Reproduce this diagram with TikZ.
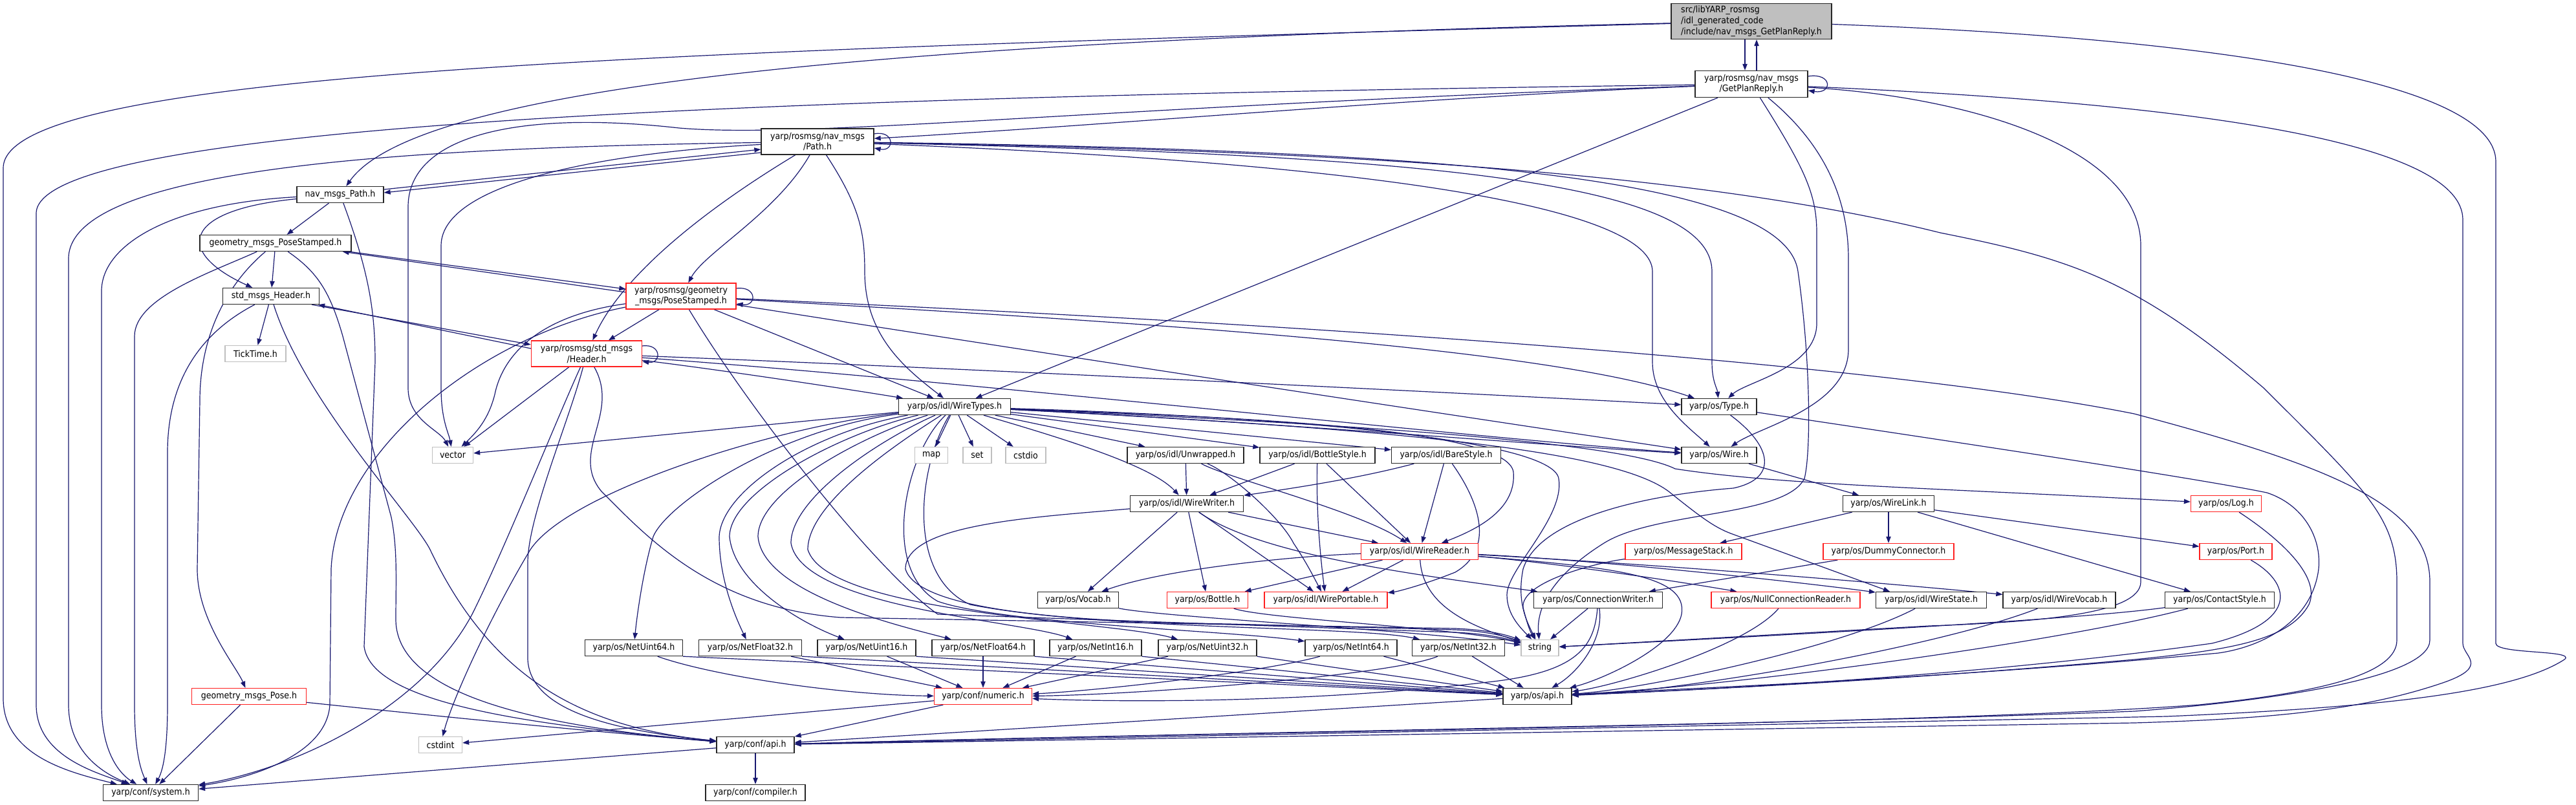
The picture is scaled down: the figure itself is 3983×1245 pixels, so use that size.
\documentclass[tikz,border=0pt]{standalone}
\usepackage{fontspec}
\setmainfont{DejaVu Sans}[FakeStretch=0.9]
\usetikzlibrary{arrows.meta,calc}
\definecolor{edgec}{HTML}{191970}
\definecolor{rootg}{HTML}{BFBFBF}
\definecolor{grayb}{HTML}{BFBFBF}
\definecolor{redb}{HTML}{FF2020}
\pgfdeclarelayer{bg}
\pgfsetlayers{bg,main}
\begin{document}
\begin{tikzpicture}[x=0.75pt,y=-0.75pt,
  nb/.style={draw=black!85,fill=white,line width=1pt,inner sep=0pt,minimum height=18.75pt,font=\fontsize{10.5}{12.5}\selectfont},
  rb/.style={nb,draw=redb},
  gb/.style={nb,draw=grayb},
  wd/.style={minimum width=#1*0.75pt},
  ht/.style={minimum height=#1*0.75pt},
  ar/.style={draw=edgec,line width=0.9pt,-{Triangle[length=7.5pt,width=5.5pt]}}]
\useasboundingbox (0,0) rectangle (3983,1245);
% nodes
\node[nb,wd=248,ht=55,fill=rootg,align=left] (R) at (2708,33) {src/libYARP\_rosmsg\\/idl\_generated\_code\\/include/nav\_msgs\_GetPlanReply.h};
\node[nb,wd=174,ht=41,align=center] (G) at (2708,130) {yarp/rosmsg/nav\_msgs\\/GetPlanReply.h};
\node[nb,wd=174,ht=40,align=center] (P) at (1264,219) {yarp/rosmsg/nav\_msgs\\/Path.h};
\node[nb,wd=134] (NP) at (526,301) {nav\_msgs\_Path.h};
\node[nb,wd=234] (GPS) at (426,376) {geometry\_msgs\_PoseStamped.h};
\node[nb,wd=149] (SMH) at (419,458) {std\_msgs\_Header.h};
\node[rb,wd=170,ht=40,align=center] (RPS) at (1053,458) {yarp/rosmsg/geometry\\\_msgs/PoseStamped.h};
\node[gb,wd=94] (TT) at (395,547) {TickTime.h};
\node[rb,wd=171,ht=40,align=center] (RH) at (907,547) {yarp/rosmsg/std\_msgs\\/Header.h};
\node[nb,wd=173] (WT) at (1476,629) {yarp/os/idl/WireTypes.h};
\node[nb,wd=116] (TY) at (2658,629) {yarp/os/Type.h};
\node[gb,wd=63] (VEC) at (700,704) {vector};
\node[gb,wd=51] (MAP) at (1440,704) {map};
\node[gb,wd=44] (SET) at (1511,704) {set};
\node[gb,wd=62] (CSTDIO) at (1586,704) {cstdio};
\node[nb,wd=180] (UW) at (1833,704) {yarp/os/idl/Unwrapped.h};
\node[nb,wd=178] (BS) at (2037,704) {yarp/os/idl/BottleStyle.h};
\node[nb,wd=169] (BRS) at (2236,704) {yarp/os/idl/BareStyle.h};
\node[nb,wd=116] (WI) at (2658,704) {yarp/os/Wire.h};
\node[nb,wd=175] (WW) at (1835,779) {yarp/os/idl/WireWriter.h};
\node[nb,wd=141] (WL) at (2920,779) {yarp/os/WireLink.h};
\node[rb,wd=109] (LOG) at (3442,779) {yarp/os/Log.h};
\node[rb,wd=181] (WR) at (2195,853) {yarp/os/idl/WireReader.h};
\node[rb,wd=180] (MS) at (2603,853) {yarp/os/MessageStack.h};
\node[rb,wd=202] (DC) at (2920,853) {yarp/os/DummyConnector.h};
\node[rb,wd=112] (PORT) at (3457,853) {yarp/os/Port.h};
\node[nb,wd=125] (VOC) at (1667,928) {yarp/os/Vocab.h};
\node[rb,wd=125] (BOT) at (1867,928) {yarp/os/Bottle.h};
\node[rb,wd=190] (WP) at (2050,928) {yarp/os/idl/WirePortable.h};
\node[nb,wd=199] (CW) at (2471,928) {yarp/os/ConnectionWriter.h};
\node[rb,wd=230] (NCR) at (2761,928) {yarp/os/NullConnectionReader.h};
\node[nb,wd=171] (WS) at (2986,928) {yarp/os/idl/WireState.h};
\node[nb,wd=174] (WV) at (3184,928) {yarp/os/idl/WireVocab.h};
\node[nb,wd=169] (CS) at (3432,928) {yarp/os/ContactStyle.h};
\node[nb,wd=151] (NU64) at (980,1002) {yarp/os/NetUint64.h};
\node[nb,wd=159] (NF32) at (1160,1002) {yarp/os/NetFloat32.h};
\node[nb,wd=152] (NU16) at (1340,1002) {yarp/os/NetUint16.h};
\node[nb,wd=158] (NF64) at (1520,1002) {yarp/os/NetFloat64.h};
\node[nb,wd=142] (NI16) at (1694,1002) {yarp/os/NetInt16.h};
\node[nb,wd=152] (NU32) at (1867,1002) {yarp/os/NetUint32.h};
\node[nb,wd=142] (NI64) at (2089,1002) {yarp/os/NetInt64.h};
\node[nb,wd=143] (NI32) at (2255,1002) {yarp/os/NetInt32.h};
\node[gb,wd=58] (STR) at (2381,1002) {string};
\node[rb,wd=177] (GP) at (385,1077) {geometry\_msgs\_Pose.h};
\node[rb,wd=151] (NUM) at (1520,1077) {yarp/conf/numeric.h};
\node[nb,wd=106] (OSAPI) at (2377,1077) {yarp/os/api.h};
\node[gb,wd=67] (CSTDINT) at (681,1152) {cstdint};
\node[nb,wd=120] (CAPI) at (1168,1152) {yarp/conf/api.h};
\node[nb,wd=147] (SYS) at (233,1226) {yarp/conf/system.h};
\node[nb,wd=154] (COMP) at (1168,1226) {yarp/conf/compiler.h};
% edges
\begin{pgfonlayer}{bg}
\fill[white] (0,0) rectangle (3983,1245);
% root
\draw[ar] ($(R.south)+(-10,0)$) -- ($(G.north)+(-10,0)$);
\draw[ar] (R) .. controls (1000,80) and (5,110) .. (5,260) -- (5,1080) .. controls (5,1170) and (110,1195) .. (SYS);
\draw[ar] (R) .. controls (1300,65) and (640,140) .. (NP);
\draw[ar] (R) .. controls (3450,60) and (3859,130) .. (3859,250) -- (3859,995) .. controls (3859,1012) and (3985,1005) .. (3965,1020) .. controls (3880,1075) and (3650,1095) .. (3350,1108) -- (CAPI);
% GetPlanReply
\draw[ar] ($(G.north)+(8,0)$) -- ($(R.south)+(8,0)$);
\draw[ar] ($(G.east)+(0,-12)$) .. controls +(38,-6) and +(38,6) .. ($(G.east)+(0,10)$);
\draw[ar] (G) .. controls (2200,150) and (1700,195) .. (P);
\draw[ar] (G) .. controls (1200,150) and (56,190) .. (56,330) -- (56,1090) .. controls (56,1170) and (150,1195) .. (SYS);
\draw[ar] (G) .. controls (1700,165) and (1250,215) .. (1050,198) .. controls (800,170) and (631,210) .. (631,320) -- (631,600) .. controls (631,650) and (680,665) .. (VEC);
\draw[ar] (G) -- (WT);
\draw[ar] (G) .. controls (2790,260) and (2809,300) .. (2809,360) -- (2809,500) .. controls (2809,570) and (2700,590) .. (TY);
\draw[ar] (G) .. controls (2830,230) and (2858,320) .. (2858,400) -- (2858,540) .. controls (2858,630) and (2720,660) .. (WI);
\draw[ar] (G) .. controls (3050,150) and (3310,230) .. (3310,380) -- (3310,900) .. controls (3310,950) and (3150,962) .. (2983,968) -- (STR);
\draw[ar] (G) .. controls (3400,160) and (3808,220) .. (3808,340) -- (3808,995) .. controls (3808,1015) and (3850,1030) .. (3780,1055) .. controls (3650,1100) and (3500,1112) .. (3300,1118) -- (CAPI);
% Path.h
\draw[ar] ($(P.east)+(0,-12)$) .. controls +(32,-6) and +(32,6) .. ($(P.east)+(0,10)$);
\draw[ar] ($(P.west)+(0,17)$) -- ($(NP.east)+(0,-3)$);
\draw[ar] (P) .. controls (700,228) and (106,250) .. (106,400) -- (106,1090) .. controls (106,1170) and (170,1200) .. (SYS);
\draw[ar] (P) .. controls (950,235) and (682,280) .. (682,380) -- (682,600) .. controls (682,650) and (694,670) .. (VEC);
\draw[ar] (P) .. controls (1200,330) and (1090,390) .. (RPS);
\draw[ar] (P) .. controls (1080,330) and (960,430) .. (RH);
\draw[ar] (P) .. controls (1330,320) and (1337,360) .. (1337,420) .. controls (1337,520) and (1400,570) .. (WT);
\draw[ar] (P) .. controls (2200,240) and (2647,280) .. (2647,420) -- (2647,560) .. controls (2647,590) and (2655,600) .. (TY);
\draw[ar] (P) .. controls (2200,255) and (2555,330) .. (2555,420) -- (2555,560) .. controls (2555,620) and (2610,660) .. (WI);
\draw[ar] (P) .. controls (2200,232) and (2760,270) .. (2780,420) .. controls (2800,560) and (2800,700) .. (2790,740) .. controls (2760,800) and (2560,790) .. (2480,840) .. controls (2400,890) and (2375,940) .. (STR);
\draw[ar] (P) .. controls (2000,232) and (2600,260) .. (3000,360) .. controls (3200,400) and (3300,430) .. (3500,600) .. controls (3660,760) and (3706,800) .. (3706,900) -- (3706,990) .. controls (3706,1040) and (3600,1070) .. (3400,1090) .. controls (3000,1120) and (2000,1130) .. (CAPI);
% nav_msgs_Path.h
\draw[ar] ($(NP.east)+(0,-8)$) -- ($(P.west)+(0,12)$);
\draw[ar] (NP) .. controls (260,315) and (157,380) .. (157,450) -- (157,1090) .. controls (157,1170) and (190,1200) .. (SYS);
\draw[ar] (NP) -- (GPS);
\draw[ar] (NP) .. controls (280,325) and (270,390) .. (SMH);
\draw[ar] (NP) .. controls (570,420) and (580,480) .. (580,560) -- (563,1000) .. controls (575,1085) and (800,1120) .. (CAPI);
% geometry_msgs_PoseStamped.h
\draw[ar] ($(GPS.south east)+(-4,0)$) -- ($(RPS.west)+(0,-11)$);
\draw[ar] (GPS) .. controls (330,420) and (208,460) .. (208,520) -- (208,1090) .. controls (208,1170) and (220,1195) .. (SYS);
\draw[ar] (GPS) -- (SMH);
\draw[ar] (GPS) .. controls (350,440) and (309,520) .. (309,620) -- (305,880) .. controls (305,960) and (365,1030) .. (GP);
\draw[ar] (GPS) .. controls (490,420) and (510,450) .. (530,520) -- (605,800) .. controls (615,850) and (612,900) .. (612,960) .. controls (615,1080) and (850,1125) .. (CAPI);
% std_msgs_Header.h
\draw[ar] ($(SMH.south east)+(-12,0)$) -- ($(RH.west)+(0,-14)$);
\draw[ar] (SMH) -- (TT);
\draw[ar] (SMH) .. controls (300,520) and (259,600) .. (259,700) -- (259,1090) .. controls (259,1170) and (250,1195) .. (SYS);
\draw[ar] (SMH) .. controls (470,620) and (640,800) .. (665,850) .. controls (760,1050) and (900,1125) .. (CAPI);
% rosmsg geometry PoseStamped
\draw[ar] ($(RPS.east)+(0,-12)$) .. controls +(32,-4) and +(32,4) .. ($(RPS.east)+(0,12)$);
\draw[ar] ($(RPS.west)+(0,-6)$) -- ($(GPS.south east)+(-14,0)$);
\draw[ar] (RPS) -- (RH);
\draw[ar] (RPS) .. controls (820,490) and (775,560) .. (765,610) .. controls (755,650) and (735,670) .. (VEC);
\draw[ar] (RPS) .. controls (740,520) and (520,700) .. (512,880) -- (510,1090) .. controls (505,1170) and (380,1205) .. (SYS);
\draw[ar] (RPS) -- (WT);
\draw[ar] (RPS) .. controls (1150,620) and (1350,880) .. (1450,950) -- (2250,978) .. controls (2300,980) and (2330,988) .. (STR);
\draw[ar] (RPS) .. controls (1800,500) and (2400,540) .. (TY);
\draw[ar] (RPS) .. controls (1700,560) and (2300,650) .. (WI);
\draw[ar] (RPS) .. controls (2000,500) and (2900,560) .. (3300,640) .. controls (3600,720) and (3757,780) .. (3757,900) -- (3757,990) .. controls (3757,1050) and (3500,1085) .. (3300,1100) .. controls (2800,1120) and (2000,1130) .. (CAPI);
% rosmsg std_msgs Header
\draw[ar] ($(RH.east)+(0,-12)$) .. controls +(30,-4) and +(30,4) .. ($(RH.east)+(0,12)$);
\draw[ar] ($(RH.west)+(0,-8)$) -- ($(SMH.south east)+(-2,0)$);
\draw[ar] (RH) -- (VEC);
\draw[ar] (RH) .. controls (860,650) and (780,850) .. (730,950) .. controls (650,1100) and (450,1190) .. (SYS);
\draw[ar] (RH) .. controls (880,650) and (816,800) .. (816,870) -- (816,1020) .. controls (820,1100) and (950,1130) .. (CAPI);
\draw[ar] (RH) .. controls (960,640) and (880,700) .. (930,760) .. controls (1000,830) and (1100,940) .. (1300,955) -- (2250,972) .. controls (2300,974) and (2330,982) .. (STR);
\draw[ar] (RH) .. controls (1100,570) and (1300,600) .. (WT);
\draw[ar] (RH) .. controls (1500,570) and (2300,610) .. (TY);
\draw[ar] (RH) .. controls (1500,590) and (2300,680) .. (WI);
% geometry_msgs_Pose.h
\draw[ar] (GP) -- (SYS);
\draw[ar] (GP) .. controls (700,1110) and (900,1130) .. (CAPI);
% WireTypes
\draw[ar] (WT) -- (VEC);
\draw[ar] (WT) -- (MAP);
\draw[ar] (WT) -- (SET);
\draw[ar] (WT) -- (CSTDIO);
\draw[ar] (WT) -- (UW);
\draw[ar] (WT) -- (BS);
\draw[ar] (WT) -- (BRS);
\draw[ar] (WT) .. controls (1650,680) and (1780,720) .. (WW);
\draw[ar] (WT) .. controls (1900,645) and (2330,660) .. (2340,730) .. controls (2345,790) and (2280,820) .. (WR);
\draw[ar] (WT) .. controls (2000,645) and (2400,680) .. (2410,740) .. controls (2420,800) and (2330,880) .. (2330,920) .. controls (2330,950) and (2350,970) .. (STR);
\draw[ar] (WT) .. controls (2000,655) and (2400,690) .. (WI);
\draw[ar] (WT) .. controls (2200,660) and (2520,690) .. (2590,725) .. controls (2750,750) and (3000,755) .. (LOG);
\draw[ar] (WT) .. controls (2200,665) and (2500,700) .. (2580,760) .. controls (2630,800) and (2650,815) .. (2676,825) -- ($(WS.north)+(-64,0)$);
\draw[ar] (WT) .. controls (1200,660) and (880,760) .. (820,850) .. controls (760,950) and (700,1080) .. (CSTDINT);
\draw[ar] (WT) .. controls (1200,665) and (1030,780) .. (1010,830) .. controls (995,880) and (985,950) .. (NU64);
\draw[ar] (WT) .. controls (1250,670) and (1115,760) .. (1112,830) .. controls (1112,900) and (1140,960) .. (NF32);
\draw[ar] (WT) .. controls (1300,670) and (1128,760) .. (1128,830) .. controls (1135,900) and (1230,960) .. (NU16);
\draw[ar] (WT) .. controls (1330,675) and (1172,760) .. (1172,830) .. controls (1180,920) and (1400,970) .. (NF64);
\draw[ar] (WT) .. controls (1360,680) and (1223,770) .. (1223,840) .. controls (1240,940) and (1580,960) .. (NI16);
\draw[ar] (WT) .. controls (1380,690) and (1249,780) .. (1249,850) .. controls (1280,950) and (1720,960) .. (NU32);
\draw[ar] (WT) .. controls (1400,700) and (1360,880) .. (1450,930) .. controls (1550,965) and (1900,975) .. (NI64);
\draw[ar] (WT) .. controls (1420,720) and (1400,890) .. (1500,935) .. controls (1700,975) and (2100,968) .. (NI32);
% Type.h, Wire.h
\draw[ar] (TY) .. controls (2740,690) and (2750,740) .. (2680,755) .. controls (2550,765) and (2380,800) .. (2355,880) .. controls (2345,930) and (2360,960) .. (STR);
\draw[ar] (TY) .. controls (3000,680) and (3400,740) .. (3505,762) .. controls (3560,780) and (3590,830) .. (3585,880) .. controls (3575,960) and (3500,1000) .. (3430,1010) .. controls (3000,1050) and (2600,1065) .. (OSAPI);
\draw[ar] (WI) -- (WL);
% Unwrapped, BottleStyle, BareStyle
\draw[ar] (UW) -- (WW);
\draw[ar] (UW) .. controls (1900,740) and (2100,790) .. (WR);
\draw[ar] (UW) .. controls (1900,730) and (1980,800) .. (2000,840) .. controls (2020,870) and (2030,890) .. (WP);
\draw[ar] (BS) -- (WW);
\draw[ar] (BS) -- (WR);
\draw[ar] (BS) .. controls (2035,780) and (2040,850) .. (WP);
\draw[ar] (BRS) .. controls (2100,740) and (2000,755) .. (WW);
\draw[ar] (BRS) -- (WR);
\draw[ar] (BRS) .. controls (2290,780) and (2310,850) .. (2250,885) .. controls (2200,905) and (2160,915) .. (WP);
% WireWriter
\draw[ar] (WW) -- (VOC);
\draw[ar] (WW) -- (BOT);
\draw[ar] (WW) -- (WP);
\draw[ar] (WW) -- (WR);
\draw[ar] (WW) .. controls (1950,860) and (2200,890) .. (CW);
\draw[ar] (WW) .. controls (1600,800) and (1400,810) .. (1400,880) .. controls (1420,950) and (1700,962) .. (1900,965) -- (2250,974) .. controls (2300,976) and (2330,985) .. (STR);
% WireReader
\draw[ar] (WR) .. controls (2000,860) and (1800,880) .. (VOC);
\draw[ar] (WR) -- (BOT);
\draw[ar] (WR) -- (WP);
\draw[ar] (WR) .. controls (2200,940) and (2280,970) .. (STR);
\draw[ar] (WR) .. controls (2400,870) and (2600,900) .. (NCR);
\draw[ar] (WR) .. controls (2500,868) and (2820,905) .. (WS);
\draw[ar] (WR) .. controls (2600,875) and (2950,905) .. (WV);
\draw[ar] (WR) .. controls (2500,878) and (2610,890) .. (2600,950) .. controls (2590,1000) and (2480,1050) .. (OSAPI);
% other middle nodes
\draw[ar] (VOC) .. controls (1800,955) and (2200,975) .. (STR);
\draw[ar] (BOT) .. controls (1960,958) and (2250,970) .. (STR);
\draw[ar] (CW) -- (STR);
\draw[ar] (CW) .. controls (2480,990) and (2440,1040) .. (OSAPI);
\draw[ar] (CW) .. controls (2465,1000) and (2440,1040) .. (2300,1055) .. controls (2000,1090) and (1700,1085) .. (NUM);
\draw[ar] (NCR) .. controls (2700,1000) and (2500,1060) .. (OSAPI);
\draw[ar] (WS) .. controls (2850,1000) and (2550,1065) .. (OSAPI);
\draw[ar] (WV) .. controls (3000,1000) and (2600,1070) .. (OSAPI);
\draw[ar] (CS) .. controls (3200,960) and (2700,985) .. (STR);
\draw[ar] (CS) .. controls (3200,990) and (2700,1060) .. (OSAPI);
\draw[ar] (MS) .. controls (2470,870) and (2350,900) .. (2355,940) .. controls (2360,960) and (2365,975) .. (STR);
\draw[ar] (DC) -- (CW);
\draw[ar] (PORT) .. controls (3540,900) and (3560,960) .. (3420,995) .. controls (3100,1040) and (2700,1065) .. (OSAPI);
\draw[ar] (LOG) .. controls (3520,830) and (3590,890) .. (3570,935) .. controls (3540,990) and (3450,1005) .. (3300,1020) .. controls (2900,1055) and (2600,1068) .. (OSAPI);
\draw[ar] (WL) -- (MS);
\draw[ar] (WL) -- (DC);
\draw[ar] (WL) -- (PORT);
\draw[ar] (WL) -- (CS);
% Net* nodes
\draw[ar] (NU64) .. controls (1100,1045) and (1300,1075) .. (NUM);
\draw[ar] (NU64.south east) -- (OSAPI);
\draw[ar] (NF32) -- (NUM);
\draw[ar] (NF32.south east) -- (OSAPI);
\draw[ar] (NU16) -- (NUM);
\draw[ar] (NU16.south east) -- (OSAPI);
\draw[ar] (NF64) -- (NUM);
\draw[ar] (NF64.south east) -- (OSAPI);
\draw[ar] (NI16) -- (NUM);
\draw[ar] (NI16.south east) -- (OSAPI);
\draw[ar] (NU32) -- (NUM);
\draw[ar] (NU32.south east) -- (OSAPI);
\draw[ar] (NI64) .. controls (1950,1040) and (1700,1068) .. (NUM);
\draw[ar] (NI64) -- (OSAPI);
\draw[ar] (NI32) .. controls (2150,1045) and (1750,1075) .. (NUM);
\draw[ar] (NI32) -- (OSAPI);
% bottom
\draw[ar] (NUM) -- (CAPI);
\draw[ar] (NUM) -- (CSTDINT);
\draw[ar] (OSAPI) -- (CAPI);
\draw[ar] (CAPI) -- (SYS);
\draw[ar] (CAPI) -- (COMP);
\end{pgfonlayer}
\end{tikzpicture}
\end{document}
